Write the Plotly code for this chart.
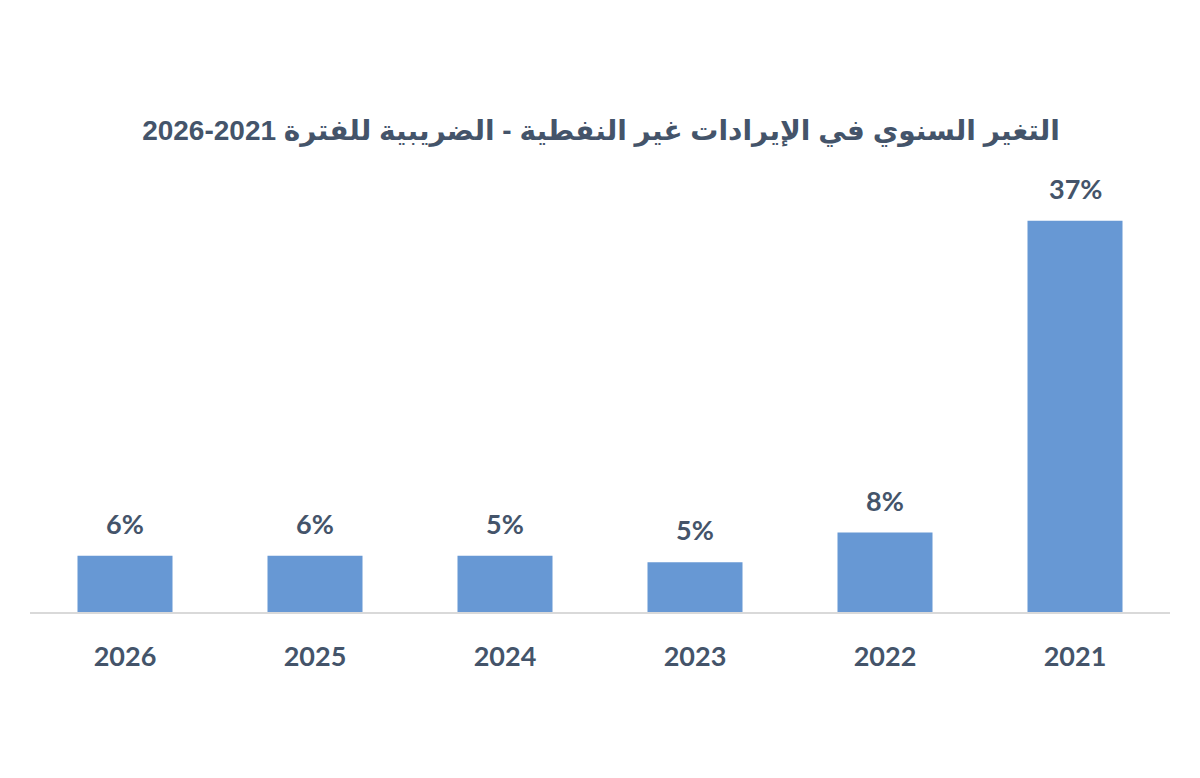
import plotly.graph_objects as go

years = ["2021", "2022", "2023", "2024", "2025", "2026"]
values = [36.9, 7.5, 4.7, 5.3, 5.3, 5.3]
labels = ["37%", "8%", "5%", "5%", "6%", "6%"]
title = "التغير السنوي في الإيرادات غير النفطية - الضريبية للفترة 2021-2026"

fig = go.Figure()
fig.add_trace(go.Bar(
    x=years, y=values,
    marker=dict(color="#6798d4", line=dict(width=0)),
    width=0.5,
    hoverinfo="skip",
))
# category axes: annotations are positioned by category index
for i, (y, t) in enumerate(zip(values, labels)):
    fig.add_annotation(x=i, y=y, text=t, showarrow=False, yanchor="bottom", yshift=14,
                       font=dict(family="Lato", size=27, color="#44546a", weight="bold"))

fig.update_layout(
    width=1200, height=778,
    margin=dict(l=22, r=38, t=180, b=174),
    paper_bgcolor="white", plot_bgcolor="white",
    showlegend=False,
    title=dict(text=title, x=(601 - 8) / 1200, xanchor="center", y=1 - 122 / 778, yanchor="middle",
               font=dict(family="Liberation Sans, DejaVu Sans", size=28, color="#44546a", weight="bold")),
    xaxis=dict(type="category", categoryorder="array", categoryarray=years,
               autorange="reversed", showgrid=False, showline=True,
               linecolor="#d9d9d9", linewidth=2,
               ticks="", ticklabelstandoff=20,
               tickfont=dict(family="Lato", size=27, color="#44546a", weight="bold")),
    yaxis=dict(range=[0, 40], visible=False, showgrid=False, zeroline=False),
)
fig.write_html("out.html")
